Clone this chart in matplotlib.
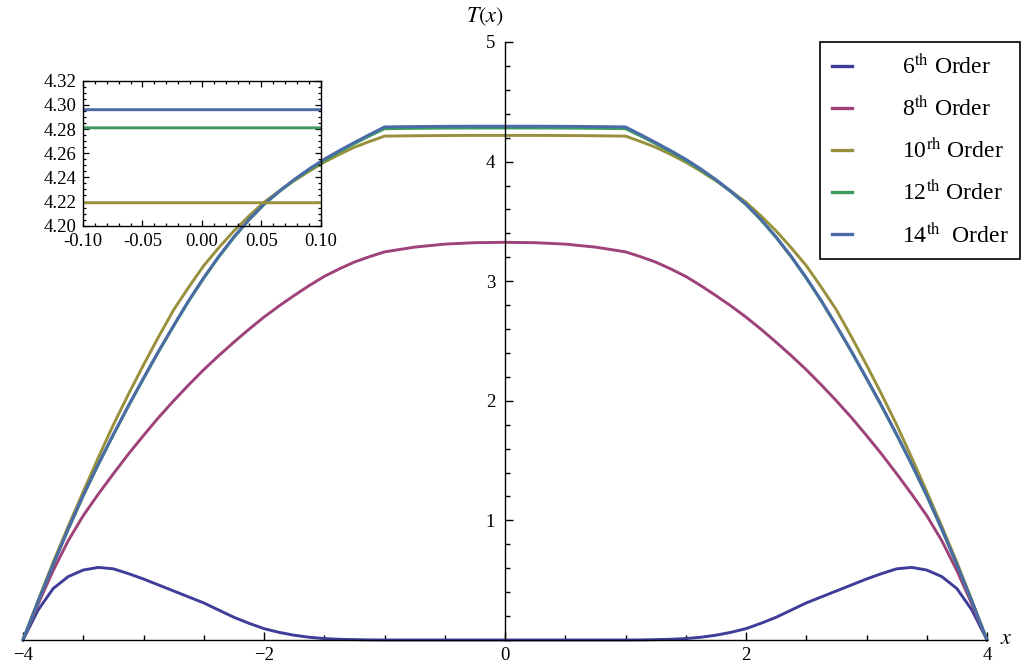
import matplotlib
matplotlib.use("Agg")
import matplotlib.pyplot as plt
from matplotlib.ticker import MultipleLocator, FixedLocator, FormatStrFormatter
from matplotlib.lines import Line2D

plt.rcParams['font.family'] = ['Liberation Serif', 'DejaVu Serif']
plt.rcParams['mathtext.fontset'] = 'stix'

# Sample positions along the slab (finer spacing outside the central plateau)
x_grid = [-4.0, -3.875, -3.75, -3.625, -3.5, -3.375, -3.25, -3.125, -3.0, -2.875,
          -2.75, -2.625, -2.5, -2.375, -2.25, -2.125, -2.0, -1.875, -1.75, -1.625,
          -1.5, -1.375, -1.25, -1.125, -1.0, -0.75, -0.5, -0.25, 0.0, 0.25, 0.5, 0.75,
          1.0, 1.125, 1.25, 1.375, 1.5, 1.625, 1.75, 1.875, 2.0, 2.125, 2.25, 2.375,
          2.5, 2.625, 2.75, 2.875, 3.0, 3.125, 3.25, 3.375, 3.5, 3.625, 3.75, 3.875, 4.0]

# Temperature profiles T(x) for successive approximation orders
order6 = [0.0, 0.25, 0.43, 0.53, 0.585, 0.607, 0.595, 0.555, 0.51, 0.46,
          0.41, 0.36, 0.31, 0.25, 0.19, 0.14, 0.095, 0.064, 0.04, 0.023,
          0.012, 0.006, 0.003, 0.001, 0.0, 0.0, 0.0, 0.0, 0.0, 0.0, 0.0, 0.0,
          0.0, 0.001, 0.003, 0.006, 0.012, 0.023, 0.04, 0.064, 0.095, 0.14, 0.19, 0.25,
          0.31, 0.36, 0.41, 0.46, 0.51, 0.555, 0.595, 0.607, 0.585, 0.53, 0.43, 0.25, 0.0]
order8 = [0.0, 0.30, 0.58, 0.83, 1.04, 1.22, 1.39, 1.555, 1.71, 1.86,
          2.00, 2.133, 2.26, 2.378, 2.49, 2.598, 2.70, 2.793, 2.88, 2.963,
          3.04, 3.103, 3.16, 3.205, 3.245, 3.285, 3.31, 3.322, 3.325, 3.322, 3.31, 3.285,
          3.245, 3.205, 3.16, 3.103, 3.04, 2.963, 2.88, 2.793, 2.70, 2.598, 2.49, 2.378,
          2.26, 2.133, 2.00, 1.86, 1.71, 1.555, 1.39, 1.22, 1.04, 0.83, 0.58, 0.30, 0.0]
order10 = [0.0, 0.33, 0.65, 0.95, 1.24, 1.525, 1.80, 2.055, 2.30, 2.535,
           2.76, 2.95, 3.13, 3.28, 3.42, 3.545, 3.66, 3.753, 3.84, 3.92,
           3.995, 4.06, 4.12, 4.168, 4.213, 4.216, 4.218, 4.219, 4.219, 4.219, 4.218, 4.216,
           4.213, 4.168, 4.12, 4.06, 3.995, 3.92, 3.84, 3.753, 3.66, 3.545, 3.42, 3.28,
           3.13, 2.95, 2.76, 2.535, 2.30, 2.055, 1.80, 1.525, 1.24, 0.95, 0.65, 0.33, 0.0]
order12 = [0.0, 0.322, 0.63, 0.924, 1.205, 1.466, 1.715, 1.955, 2.185, 2.41,
           2.625, 2.833, 3.025, 3.203, 3.365, 3.511, 3.64, 3.747, 3.845, 3.931,
           4.01, 4.082, 4.15, 4.214, 4.275, 4.278, 4.28, 4.281, 4.281, 4.281, 4.28, 4.278,
           4.275, 4.214, 4.15, 4.082, 4.01, 3.931, 3.845, 3.747, 3.64, 3.511, 3.365, 3.203,
           3.025, 2.833, 2.625, 2.41, 2.185, 1.955, 1.715, 1.466, 1.205, 0.924, 0.63, 0.322, 0.0]
order14 = [0.0, 0.323, 0.63, 0.929, 1.21, 1.471, 1.72, 1.96, 2.19, 2.415,
           2.63, 2.838, 3.03, 3.208, 3.37, 3.516, 3.645, 3.752, 3.85, 3.939,
           4.02, 4.092, 4.16, 4.226, 4.29, 4.293, 4.295, 4.296, 4.296, 4.296, 4.295, 4.293,
           4.29, 4.226, 4.16, 4.092, 4.02, 3.939, 3.85, 3.752, 3.645, 3.516, 3.37, 3.208,
           3.03, 2.838, 2.63, 2.415, 2.19, 1.96, 1.72, 1.471, 1.21, 0.929, 0.63, 0.323, 0.0]

labels = [r'6$^{\mathrm{th}}$ Order', r'8$^{\mathrm{th}}$ Order', r'10$^{\mathrm{rh}}$ Order',
          r'12$^{\mathrm{th}}$ Order', r'14$^{\mathrm{th}}$  Order']
colors = ['#3f3d99', '#9e4279', '#99903d', '#3e9b5f', '#4a6aa8']
profiles = [order6, order8, order10, order12, order14]

W, H = 1029, 670
fig = plt.figure(figsize=(W / 100, H / 100), dpi=100)

# Main axes, with the axes crossing at the origin
ax = fig.add_axes([23 / W, 30 / H, 964 / W, 598 / H])
for ys, c in zip(profiles, colors):
    ax.plot(x_grid, ys, color=c, lw=2.1, clip_on=False, solid_joinstyle='round')
ax.set_xlim(-4, 4)
ax.set_ylim(0, 5)
ax.spines['left'].set_position(('data', 0))
ax.spines['top'].set_visible(False)
ax.spines['right'].set_visible(False)
for s in ('left', 'bottom'):
    ax.spines[s].set_linewidth(1.0)
ax.xaxis.set_major_locator(FixedLocator([-4, -2, 0, 2, 4]))
ax.xaxis.set_minor_locator(MultipleLocator(0.5))
ax.yaxis.set_major_locator(FixedLocator([1, 2, 3, 4, 5]))
ax.yaxis.set_minor_locator(MultipleLocator(0.2))
ax.tick_params(which='both', direction='in', width=1.0, labelsize=13.5)
ax.tick_params(which='major', length=5.5)
ax.tick_params(which='minor', length=3.5)
ax.tick_params(axis='y', pad=7)
ax.tick_params(axis='x', pad=5)
ax.patch.set_visible(False)

fig.text(485 / W, 1 - 17 / H, r'$T(x)$', fontsize=16, ha='center', va='center')
ax.text(4.11, 0.0, r'$x$', fontsize=16, ha='left', va='center', transform=ax.transData)

handles = [Line2D([], [], color=c, lw=2.4) for c in colors]
leg = ax.legend(handles, labels, loc='upper right',
                bbox_to_anchor=(1020 / W, 1 - 42 / H), bbox_transform=fig.transFigure,
                fontsize=17, frameon=True, fancybox=False, framealpha=1,
                edgecolor='black', handlelength=0.85, handletextpad=2.1,
                labelspacing=0.73, borderpad=0.5, borderaxespad=0)
leg.get_frame().set_linewidth(1.2)

# Inset zoom on the centre of the plateau
axi = fig.add_axes([83 / W, (H - 225.7) / H, 237.7 / W, 145 / H])
axi.patch.set_visible(False)
for ys, c in zip(profiles[2:], colors[2:]):
    axi.plot(x_grid, ys, color=c, lw=2.1)
axi.set_xlim(-0.1, 0.1)
axi.set_ylim(4.20, 4.32)
axi.xaxis.set_major_locator(MultipleLocator(0.05))
axi.xaxis.set_minor_locator(MultipleLocator(0.01))
axi.yaxis.set_major_locator(MultipleLocator(0.02))
axi.yaxis.set_minor_locator(MultipleLocator(0.005))
axi.xaxis.set_major_formatter(FormatStrFormatter('%.2f'))
axi.yaxis.set_major_formatter(FormatStrFormatter('%.2f'))
axi.tick_params(which='both', direction='in', top=True, right=True, width=0.9, labelsize=13.5)
axi.tick_params(which='major', length=4.5)
axi.tick_params(which='minor', length=2.5)
axi.tick_params(axis='y', pad=5)
axi.tick_params(axis='x', pad=5)
for s in axi.spines.values():
    s.set_linewidth(1.0)

fig.savefig('out.png', dpi=100)
